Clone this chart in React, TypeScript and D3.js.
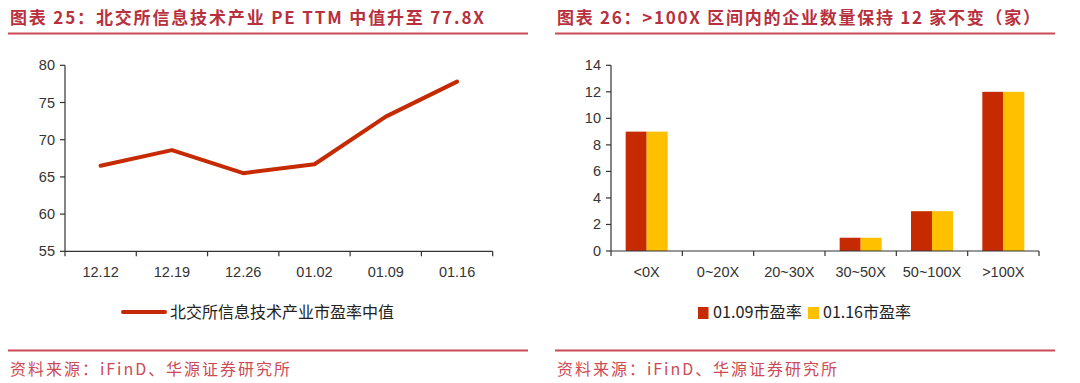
import React from "react";
import * as d3 from "d3";

const lineDates = ["12.12", "12.19", "12.26", "01.02", "01.09", "01.16"];
const lineValues = [66.5, 68.6, 65.5, 66.7, 73.1, 77.8];
const lineTicks = [55, 60, 65, 70, 75, 80];
const lineName = "北交所信息技术产业市盈率中值";

const barCats = ["<0X", "0~20X", "20~30X", "30~50X", "50~100X", ">100X"];
const bar0109 = [9, 0, 0, 1, 3, 12];
const bar0116 = [9, 0, 0, 1, 3, 12];
const barTicks = [0, 2, 4, 6, 8, 10, 12, 14];
const barNames = ["01.09市盈率", "01.16市盈率"];

const title1 = "图表 25：北交所信息技术产业 PE TTM 中值升至 77.8X";
const title2 = "图表 26：>100X 区间内的企业数量保持 12 家不变（家）";
const source = "资料来源：iFinD、华源证券研究所";

const RED = "#C52A00";
const YELLOW = "#FFC000";
const TITLE = "#B8303D";
const RULE = "#CC4A55";
const AX = "#333";
const LATIN = "'Liberation Sans', Arial, sans-serif";
const CJK = "'Noto Sans CJK SC', 'Noto Sans', sans-serif";

export default function App() {
  // left chart
  const lx = d3.scaleBand<string>().domain(lineDates).range([65, 492.7]);
  const ly = d3.scaleLinear().domain([55, 80]).range([251.3, 65.3]);
  const linePath = d3
    .line<number>()
    .x((_, i) => (lx(lineDates[i]) as number) + lx.bandwidth() / 2)
    .y((d) => ly(d))(lineValues) as string;

  // right chart
  const bx = d3.scaleBand<string>().domain(barCats).range([611, 1039]);
  const by = d3.scaleLinear().domain([0, 14]).range([251, 65.3]);
  const bw = 21;

  const lxTicks = [...lineDates.map((d) => lx(d) as number), 492.7];
  const bxTicks = [...barCats.map((d) => bx(d) as number), 1039];

  return (
    <svg
      width={1080}
      height={383}
      style={{ position: "absolute", left: 0, top: 0, background: "#fff" }}
    >
      <rect x={0} y={0} width={1080} height={383} fill="#fff" />
      {/* titles */}
      <text x={10} y={24} fontFamily={CJK} fontSize={17} fontWeight={700} fill={TITLE} textLength={474} lengthAdjust="spacing">
        {title1}
      </text>
      <line x1={8} x2={528} y1={33.5} y2={33.5} stroke={RULE} strokeWidth={2} />
      <text x={557} y={24} fontFamily={CJK} fontSize={17} fontWeight={700} fill={TITLE} textLength={483} lengthAdjust="spacing">
        {title2}
      </text>
      <line x1={555} x2={1055} y1={33.5} y2={33.5} stroke={RULE} strokeWidth={2} />

      {/* left chart axes */}
      <line x1={65} x2={65} y1={ly(80)} y2={ly(55)} stroke={AX} strokeWidth={1.2} />
      <line x1={65} x2={492.7} y1={ly(55)} y2={ly(55)} stroke={AX} strokeWidth={1.2} />
      {lineTicks.map((t) => (
        <g key={t}>
          <line x1={60} x2={65} y1={ly(t)} y2={ly(t)} stroke={AX} strokeWidth={1.2} />
          <text x={55} y={ly(t) + 5} textAnchor="end" fontFamily={LATIN} fontSize={14.5} fill={AX}>
            {t}
          </text>
        </g>
      ))}
      {lxTicks.map((x, i) => (
        <line key={i} x1={x} x2={x} y1={ly(55)} y2={ly(55) + 5} stroke={AX} strokeWidth={1.2} />
      ))}
      {lineDates.map((d) => (
        <text key={d} x={(lx(d) as number) + lx.bandwidth() / 2} y={277} textAnchor="middle" fontFamily={LATIN} fontSize={14.5} fill={AX}>
          {d}
        </text>
      ))}
      <path d={linePath} fill="none" stroke={RED} strokeWidth={4} strokeLinejoin="round" strokeLinecap="round" />
      {/* left legend */}
      <line x1={123} x2={165} y1={312} y2={312} stroke={RED} strokeWidth={4} strokeLinecap="round" />
      <text x={170} y={317.5} fontFamily={CJK} fontSize={16} fill="#222" textLength={224} lengthAdjust="spacing">
        {lineName}
      </text>

      {/* right chart axes */}
      <line x1={611} x2={611} y1={by(14)} y2={by(0)} stroke={AX} strokeWidth={1.2} />
      {barTicks.map((t) => (
        <g key={t}>
          <line x1={606} x2={611} y1={by(t)} y2={by(t)} stroke={AX} strokeWidth={1.2} />
          <text x={601} y={by(t) + 5} textAnchor="end" fontFamily={LATIN} fontSize={14.5} fill={AX}>
            {t}
          </text>
        </g>
      ))}
      {barCats.map((c, i) => {
        const cx = (bx(c) as number) + bx.bandwidth() / 2;
        return (
          <g key={c}>
            {bar0109[i] > 0 && (
              <rect x={cx - bw} y={by(bar0109[i])} width={bw} height={by(0) - by(bar0109[i])} fill={RED} />
            )}
            {bar0116[i] > 0 && (
              <rect x={cx} y={by(bar0116[i])} width={bw} height={by(0) - by(bar0116[i])} fill={YELLOW} />
            )}
            <text x={cx} y={277} textAnchor="middle" fontFamily={LATIN} fontSize={14.5} fill={AX}>
              {c}
            </text>
          </g>
        );
      })}
      <line x1={611} x2={1039} y1={by(0)} y2={by(0)} stroke={AX} strokeWidth={1.2} />
      {bxTicks.map((x, i) => (
        <line key={i} x1={x} x2={x} y1={by(0)} y2={by(0) + 5} stroke={AX} strokeWidth={1.2} />
      ))}
      {/* right legend */}
      <rect x={698} y={307} width={10.5} height={12} fill={RED} />
      <text x={713} y={318} fontFamily={CJK} fontSize={16} fill="#222" textLength={89} lengthAdjust="spacingAndGlyphs">
        {barNames[0]}
      </text>
      <rect x={808} y={307} width={11} height={12} fill={YELLOW} />
      <text x={823} y={318} fontFamily={CJK} fontSize={16} fill="#222" textLength={88} lengthAdjust="spacingAndGlyphs">
        {barNames[1]}
      </text>

      {/* footers */}
      <line x1={8} x2={528} y1={350.5} y2={350.5} stroke={RULE} strokeWidth={2} />
      <text x={10} y={375} fontFamily={CJK} fontSize={16} fill={RULE} textLength={280} lengthAdjust="spacing">
        {source}
      </text>
      <line x1={555} x2={1055} y1={350.5} y2={350.5} stroke={RULE} strokeWidth={2} />
      <text x={557} y={375} fontFamily={CJK} fontSize={16} fill={RULE} textLength={280} lengthAdjust="spacing">
        {source}
      </text>
    </svg>
  );
}
